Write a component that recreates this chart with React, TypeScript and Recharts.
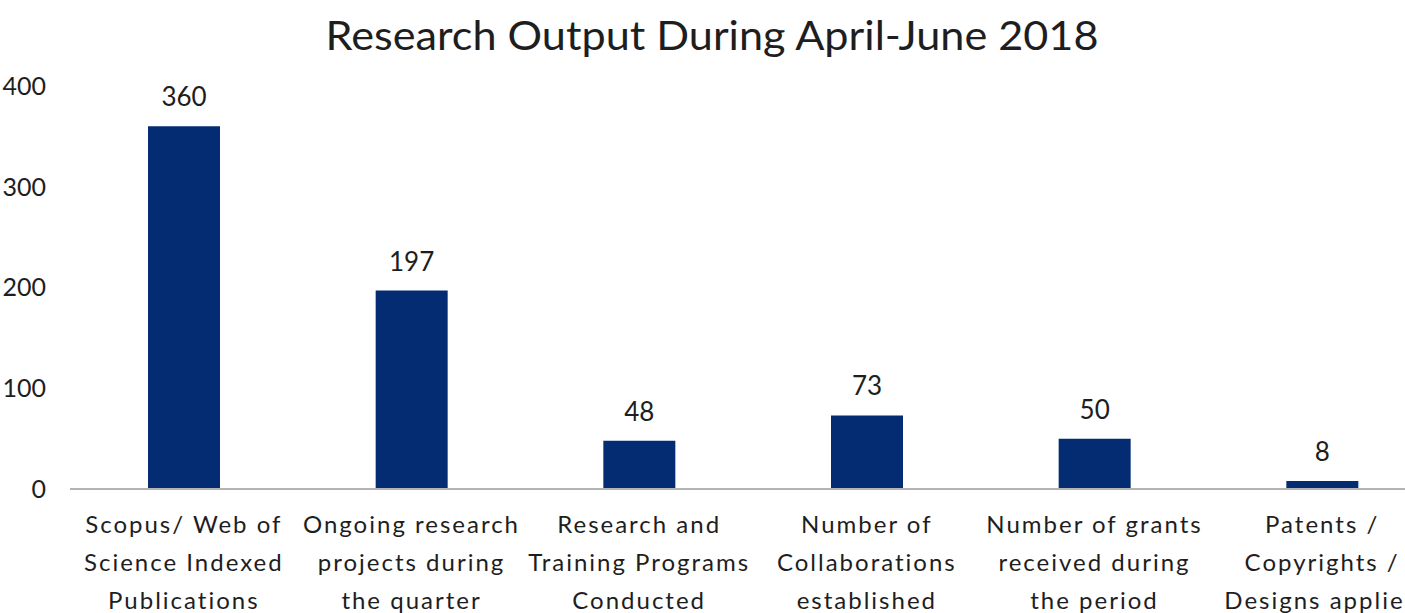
import React from 'react';
import { BarChart, Bar, XAxis, YAxis, LabelList } from 'recharts';

const categories = [
  'Scopus/ Web of\nScience Indexed\nPublications',
  'Ongoing research\nprojects during\nthe quarter',
  'Research and\nTraining Programs\nConducted',
  'Number of\nCollaborations\nestablished',
  'Number of grants\nreceived during\nthe period',
  'Patents /\nCopyrights /\nDesigns applied',
];
const counts = [360, 197, 48, 73, 50, 8];
const yTicks = [0, 100, 200, 300, 400];

const data = categories.map((name, i) => ({ name, count: counts[i] }));

const FONT = 'Lato, "Open Sans", sans-serif';

const CategoryTick = (props: any) => {
  const { x, y, payload } = props;
  const lines = String(payload.value).split('\n');
  return (
    <text x={x} y={y} textAnchor="middle" fontSize={24} fill="#1e1e1e" fontFamily={FONT} letterSpacing={2}>
      {lines.map((line, i) => (
        <tspan key={i} x={x} dy={i === 0 ? 36 : 38}>{line}</tspan>
      ))}
    </text>
  );
};

export default function App() {
  return (
    <div style={{ position: 'absolute', left: 0, top: 0, width: 1405, height: 613, overflow: 'hidden', background: '#fff' }}>
      <svg width={1405} height={70} style={{ position: 'absolute', left: 0, top: 0 }}>
        <text x={712} y={50} textAnchor="middle" fontSize={40} fill="#1e1e1e" fontFamily={FONT}
          textLength={773} lengthAdjust="spacingAndGlyphs">
          Research Output During April-June 2018
        </text>
      </svg>
      <div style={{ position: 'absolute', left: -40, top: 0 }}>
        <BarChart width={1480} height={613} data={data}
          margin={{ top: 86, right: 4, left: 30, bottom: 0 }}>
          <XAxis dataKey="name" interval={0} height={124} tickLine={false}
            axisLine={{ stroke: '#b3b3b3', strokeWidth: 2 }} tick={<CategoryTick />} />
          <YAxis domain={[0, 400]} ticks={yTicks} width={80} axisLine={false} tickLine={false}
            tickMargin={18} tick={{ fontSize: 25, fill: '#1e1e1e', fontFamily: FONT }} />
          <Bar dataKey="count" fill="#032C73" barSize={72} isAnimationActive={false}>
            <LabelList dataKey="count" position="top" offset={20} fontSize={26} fill="#1e1e1e" fontFamily={FONT} />
          </Bar>
        </BarChart>
      </div>
    </div>
  );
}
